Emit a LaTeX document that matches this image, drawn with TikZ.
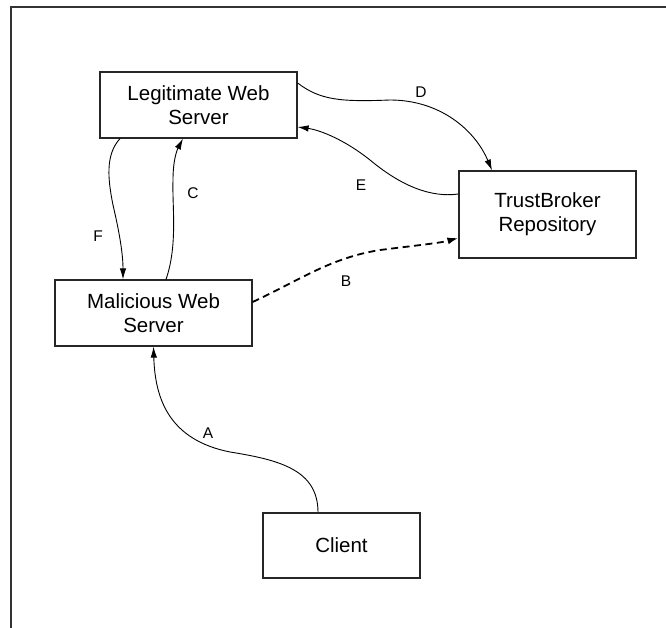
\documentclass[tikz,border=0pt]{standalone}
\usepackage{fontspec}
\setmainfont{Liberation Sans}
\usetikzlibrary{arrows.meta}
\tikzset{
        boxnode/.style={align=center,inner sep=0pt,draw=black!85,line width=1.2pt},
        % Server boxes
        node_server/.style={boxnode, rectangle, minimum width=197pt, minimum height=66pt, font=\fontsize{20.5}{24}\selectfont},
        % Repository box
        node_repo/.style={boxnode, rectangle, minimum width=177pt, minimum height=87pt, font=\fontsize{20.5}{24}\selectfont},
        % Client box
        node_client/.style={boxnode, rectangle, minimum width=157pt, minimum height=65pt, font=\fontsize{20.5}{24}\selectfont},
        % Edge labels
        node_label/.style={inner sep=0pt, font=\fontsize{15.5}{17}\selectfont},
        % Connectors
        edge_msg/.style={line width=0.9pt, -{Latex[length=11pt,width=6.5pt]}},
        edge_fake/.style={edge_msg, line width=1.8pt, dash pattern=on 7pt off 4.5pt, -{Latex[length=11pt,width=7pt]}}
}
\begin{document}
\begin{tikzpicture}[x=1pt, y=-1pt]
            \useasboundingbox (0,0) rectangle (666,628);
            \draw[line width=1.3pt, black!80] (11,628) -- (11,7) -- (666,7);

            \node[node_server] (legit) at (198.5,105) {Legitimate Web\\Server};
            \node[node_repo] (trust) at (547.5,214.5) {TrustBroker\\Repository};
            \node[node_server] (mal) at (153.5,313) {Malicious Web\\Server};
            \node[node_client] (client) at (341.5,545.5) {Client};

            \draw[edge_msg] ([xshift=-23.5pt]client.north) .. controls (318,470) and (280,460) .. (230,452)
                .. controls (170,440) and (155,400) .. (mal.south);
            \draw[edge_fake] ([yshift=11pt]mal.east) .. controls (300,280) and (330,258) .. (380,250)
                .. controls (420,245) and (440,243) .. ([yshift=-23.5pt]trust.west);
            \draw[edge_msg] ([xshift=12.5pt]mal.north) .. controls (178,245) and (172,205) .. (173,180)
                .. controls (173,160) and (177,150) .. ([xshift=-15.5pt]legit.south);
            \draw[edge_msg] ([yshift=22pt]legit.east) .. controls (320,100) and (340,102) .. (390,100)
                .. controls (440,100) and (475,130) .. ([xshift=-55.5pt]trust.north);
            \draw[edge_msg] ([yshift=20.5pt]trust.west) .. controls (430,198) and (400,185) .. (370,160)
                .. controls (345,140) and (320,130) .. ([yshift=-22pt]legit.east);
            \draw[edge_msg] ([xshift=-78.5pt]legit.south) .. controls (105,155) and (108,180) .. (113,205)
                .. controls (120,235) and (123,255) .. ([xshift=-30.5pt]mal.north);

            \node[node_label] (labA) at (208,433) {A};
            \node[node_label] (labB) at (346,281) {B};
            \node[node_label] (labC) at (193,193) {C};
            \node[node_label] (labD) at (421,92) {D};
            \node[node_label] (labE) at (361,185) {E};
            \node[node_label] (labF) at (98,236) {F};
\end{tikzpicture}
\end{document}
